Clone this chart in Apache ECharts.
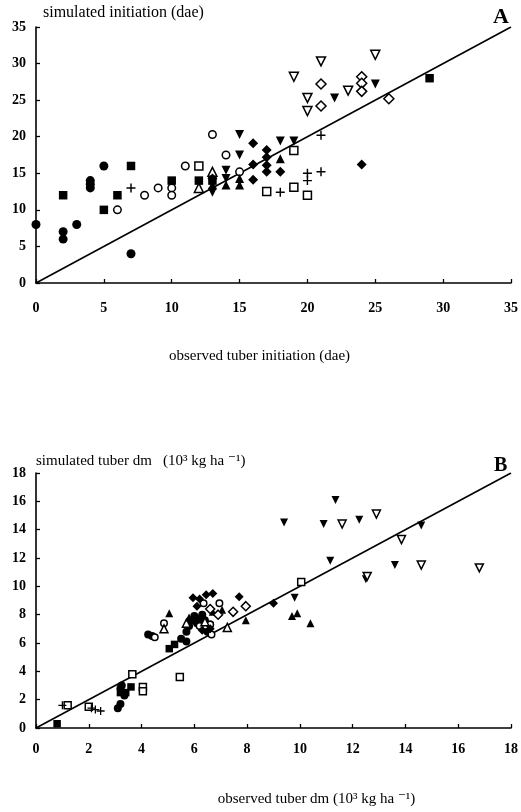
<!DOCTYPE html>
<html>
<head>
<meta charset="utf-8">
<script src="https://cdn.jsdelivr.net/npm/echarts@6/dist/echarts.min.js"></script>
<style>html,body{margin:0;padding:0;background:#fff}#c{width:521px;height:812px}</style>
</head>
<body>
<div id="c"></div>
<script>
// ---------- Panel A: tuber initiation (dae) ----------
const aFilledCircle = [[0,8],[2,7],[2,6],[3,8],[4,14],[4,13.5],[4,13],[5,16],[7,4]];
const aFilledSquare = [[2,12],[5,10],[6,12],[7,16],[10,14],[12,14],[13,14],[29,28]];
const aOpenCircle   = [[6,10],[8,12],[9,13],[10,13],[10,12],[11,16],[13,20.3],[14,17.5],[15,15.2]];
const aOpenSquare   = [[12,16],[17,12.5],[19,18.1],[19,13.1],[20,12]];
const aPlus         = [[7,13],[18,12.4],[20,15],[20,14],[21,20.2],[21,15.2]];
const aOpenTriUp    = [[12,13],[13,15.2]];
const aFilledTriUp  = [[13,13.4],[15,14.3],[15,13.4],[18,17],[14,13.4]];
const aFilledTriDown= [[13,12.4],[14,15.4],[14,14.3],[15,20.3],[15,17.5],[18,19.4],[19,19.4],[25,27.2],[22,25.3]];
const aFilledDiamond= [[13,14.3],[16,19.1],[16,16.2],[16,14.1],[17,18.2],[17,17.2],[17,16.1],[17,15.2],[18,15.2],[24,16.2]];
const aOpenTriDown  = [[19,28.2],[20,25.3],[20,23.5],[21,30.3],[23,26.3],[25,31.2]];
const aOpenDiamond  = [[21,27.2],[21,24.2],[24,28.2],[24,27.3],[24,26.2],[26,25.2]];
const aTicksX = [0,5,10,15,20,25,30,35];
const aOneToOne = [[0,0],[35,35]];

// ---------- Panel B: tuber dry matter (10^3 kg/ha) ----------
const bFilledCircle = [[3.1,1.4],[3.2,1.7],[3.35,2.3],[3.2,2.8],[3.25,3.0],[4.25,6.6],[4.4,6.5],[5.5,6.3],[5.7,6.8],[5.8,7.2],[5.9,7.6],[6.0,7.9],[6.1,7.4],[6.2,7.7],[6.3,8.0],[6.4,7.6],[6.6,7.3],[6.5,6.8],[5.7,6.1]];
const bFilledSquare = [[0.8,0.3],[3.6,2.9],[3.4,2.5],[5.05,5.6],[5.25,5.9],[3.2,2.5]];
const bOpenSquare   = [[1.2,1.6],[2.0,1.5],[3.65,3.8],[4.05,2.9],[4.05,2.6],[5.45,3.6],[10.05,10.3]];
const bPlus         = [[1.0,1.6],[2.1,1.4],[2.25,1.3],[2.45,1.2]];
const bOpenCircle   = [[4.5,6.4],[4.85,7.4],[6.35,8.8],[6.95,8.8],[6.6,7.3],[6.65,6.6],[6.2,7.2]];
const bOpenTriUp    = [[4.85,7.0],[7.25,7.1],[6.4,7.5],[5.7,7.4]];
const bFilledTriUp  = [[5.05,8.1],[5.8,7.8],[6.7,8.2],[7.05,8.35],[7.95,7.6],[9.7,7.9],[9.9,8.1],[10.4,7.4]];
const bFilledDiamond= [[5.95,9.2],[6.2,9.1],[6.45,9.4],[6.7,9.5],[7.7,9.26],[9.0,8.8],[6.1,8.6],[6.6,7.0],[6.3,6.9]];
const bOpenDiamond  = [[7.47,8.2],[7.95,8.6],[6.6,8.4],[6.9,8.0]];
const bFilledTriDown= [[9.4,14.5],[11.35,16.1],[10.9,14.4],[12.25,14.7],[14.6,14.3],[11.15,11.8],[13.6,11.5],[9.8,9.2],[12.5,10.5]];
const bOpenTriDown  = [[11.6,14.4],[12.9,15.1],[13.85,13.3],[14.6,11.5],[16.8,11.3],[12.55,10.7]];
const bTicksX = [0,2,4,6,8,10,12,14,16,18];
const bOneToOne = [[0,0],[18,18]];

const FONT = '"Liberation Serif", "DejaVu Serif", serif';
const PLUS = 'path://M4.2,0H5.8V4.2H10V5.8H5.8V10H4.2V5.8H0V4.2H4.2Z';

function pts(name, data, idx, symbol, filled, size, rotate) {
  return {
    name: name, type: 'scatter', xAxisIndex: idx, yAxisIndex: idx,
    data: data, symbol: symbol, symbolSize: size, symbolRotate: rotate || 0,
    itemStyle: filled ? { color: '#000', borderWidth: 0, opacity: 1 } : { color: '#fff', borderColor: '#000', borderWidth: 1.5, opacity: 1 },
    z: 3, silent: true
  };
}
function set(prefix, idx, s, d) {
  const S = s;
  return [
    pts(prefix + ' filled circle', d.fc, idx, 'circle', true, S),
    pts(prefix + ' filled square', d.fs, idx, 'rect', true, S - 0.5),
    pts(prefix + ' open circle', d.oc, idx, 'circle', false, S - 1.5),
    pts(prefix + ' open square', d.os, idx, 'rect', false, S - 1),
    pts(prefix + ' plus', d.pl, idx, PLUS, true, S),
    pts(prefix + ' open triangle', d.otu, idx, 'triangle', false, S),
    pts(prefix + ' filled triangle', d.ftu, idx, 'triangle', true, S),
    pts(prefix + ' filled inverted triangle', d.ftd, idx, 'triangle', true, S, 180),
    pts(prefix + ' filled diamond', d.fd, idx, 'diamond', true, S + 1),
    pts(prefix + ' open inverted triangle', d.otd, idx, 'triangle', false, S, 180),
    pts(prefix + ' open diamond', d.od, idx, 'diamond', false, S + 1)
  ];
}
function oneToOne(data, idx) {
  return { name: '1:1', type: 'line', xAxisIndex: idx, yAxisIndex: idx, data: data,
    symbol: 'none', lineStyle: { color: '#000', width: 1.6 }, z: 2, silent: true };
}
const axLine = { show: true, onZero: false, lineStyle: { color: '#000', width: 1.6 } };
const axTick = { show: true, inside: true, length: 4, lineStyle: { color: '#000', width: 1.3 } };
const lbl = { color: '#000', fontFamily: FONT, fontWeight: 'bold', fontSize: 14 };

const option = {
  backgroundColor: '#fff',
  animation: false,
  grid: [
    { left: 36, top: 27, width: 476, height: 256 },
    { left: 36, top: 473, width: 476, height: 255 }
  ],
  xAxis: [
    { type: 'value', gridIndex: 0, min: 0, max: 35, interval: 5, axisLine: axLine, axisTick: axTick,
      splitLine: { show: false }, axisLabel: Object.assign({ margin: 18 }, lbl),
      name: 'observed tuber initiation (dae)', nameLocation: 'middle', nameGap: 66,
      nameTextStyle: { color: '#000', fontFamily: FONT, fontSize: 15, padding: [0, 28, 0, 0] } },
    { type: 'value', gridIndex: 1, min: 0, max: 18, interval: 2, axisLine: axLine, axisTick: axTick,
      splitLine: { show: false }, axisLabel: Object.assign({ margin: 14 }, lbl),
      name: 'observed tuber dm (10\u00B3 kg ha \u207B\u00B9)', nameLocation: 'middle', nameGap: 64,
      nameTextStyle: { color: '#000', fontFamily: FONT, fontSize: 15, padding: [0, 0, 0, 86] } }
  ],
  yAxis: [
    { type: 'value', gridIndex: 0, min: 0, max: 35, interval: 5, axisLine: axLine, axisTick: axTick,
      splitLine: { show: false }, axisLabel: Object.assign({ margin: 10 }, lbl),
      name: 'simulated initiation (dae)', nameLocation: 'end', nameGap: 6,
      nameTextStyle: { color: '#000', fontFamily: FONT, fontSize: 16, align: 'left', padding: [0, 0, 0, 7] } },
    { type: 'value', gridIndex: 1, min: 0, max: 18, interval: 2, axisLine: axLine, axisTick: axTick,
      splitLine: { show: false }, axisLabel: Object.assign({ margin: 10 }, lbl),
      name: 'simulated tuber dm   (10\u00B3 kg ha \u207B\u00B9)', nameLocation: 'end', nameGap: 4,
      nameTextStyle: { color: '#000', fontFamily: FONT, fontSize: 15, align: 'left', padding: [0, 0, 0, 0] } }
  ],
  graphic: [
    { type: 'text', left: 493, top: 6, style: { text: 'A', fill: '#000', font: 'bold 22px "Liberation Serif", serif' } },
    { type: 'text', left: 494, top: 456, style: { text: 'B', fill: '#000', font: 'bold 20px "Liberation Serif", serif' } }
  ],
  series: [].concat(
    [oneToOne(aOneToOne, 0)],
    set('A', 0, 9, { fc: aFilledCircle, fs: aFilledSquare, oc: aOpenCircle, os: aOpenSquare, pl: aPlus,
      otu: aOpenTriUp, ftu: aFilledTriUp, ftd: aFilledTriDown, fd: aFilledDiamond, otd: aOpenTriDown, od: aOpenDiamond }),
    [oneToOne(bOneToOne, 1)],
    set('B', 1, 8, { fc: bFilledCircle, fs: bFilledSquare, oc: bOpenCircle, os: bOpenSquare, pl: bPlus,
      otu: bOpenTriUp, ftu: bFilledTriUp, ftd: bFilledTriDown, fd: bFilledDiamond, otd: bOpenTriDown, od: bOpenDiamond })
  )
};
const chart = echarts.init(document.getElementById('c'), null, { renderer: 'canvas' });
chart.setOption(option);
</script>
</body>
</html>
